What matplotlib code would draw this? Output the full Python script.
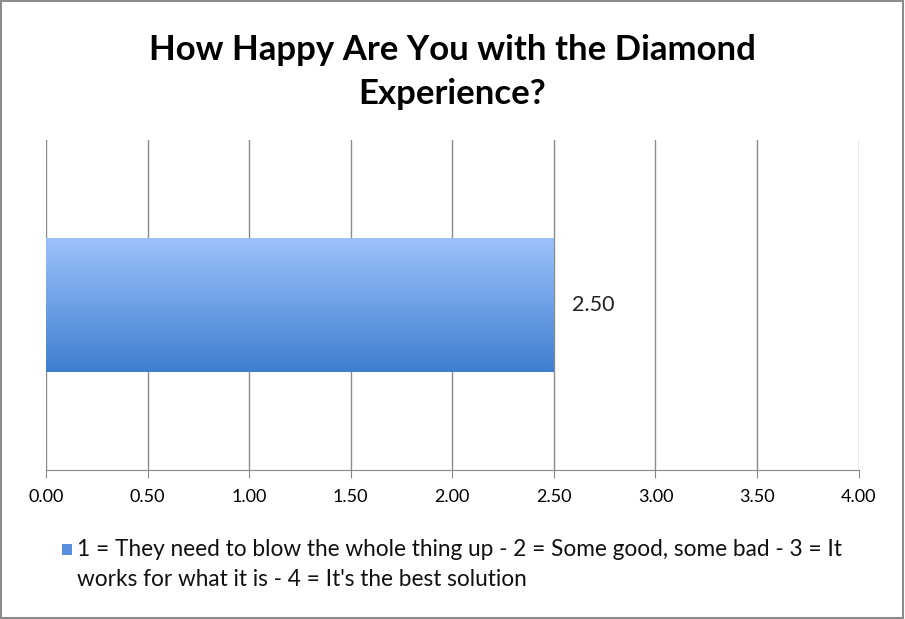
import numpy as np
import matplotlib.pyplot as plt
from matplotlib.patches import Rectangle
from matplotlib.colors import LinearSegmentedColormap

# data
categories = [""]
values = [2.50]
x_ticks = [0.0, 0.5, 1.0, 1.5, 2.0, 2.5, 3.0, 3.5, 4.0]
title = "How Happy Are You with the Diamond\nExperience?"
series_label = ("1 = They need to blow the whole thing up - 2 = Some good, some bad - 3 = It\n"
                "works for what it is - 4 = It's the best solution")

plt.rcParams['font.family'] = ['Lato', 'DejaVu Sans']

fig = plt.figure(figsize=(9.05, 6.19), dpi=100)
ax = fig.add_axes([0.0508, 0.2407, 0.898, 0.533])

grad = LinearSegmentedColormap.from_list("bar", ["#3f7ecf", "#9cc2fb"])
bars = ax.barh(categories, values, height=0.405, color="none", edgecolor="none", zorder=3)
for b in bars:
    x0, y0, w, h = b.get_x(), b.get_y(), b.get_width(), b.get_height()
    g = np.linspace(0, 1, 256).reshape(-1, 1)
    ax.imshow(g, cmap=grad, aspect="auto", origin="lower",
              extent=[x0, x0 + w, y0, y0 + h], zorder=3)
    ax.text(x0 + w + 0.09, y0 + h / 2, f"{w:.2f}", va="center", ha="left",
            fontsize=15.5, color="#222222")

ax.set_xlim(0, 4)
ax.set_ylim(-0.5, 0.5)
ax.set_xticks(x_ticks)
ax.set_xticklabels([f"{t:.2f}" for t in x_ticks], fontsize=13)
ax.set_yticks([])
ax.grid(axis="x", color="#8a8a8a", linewidth=1.0, zorder=0)
for s in ["top", "right", "left"]:
    ax.spines[s].set_visible(False)
ax.spines["bottom"].set_color("#8a8a8a")
ax.tick_params(axis="x", length=6, color="#8a8a8a", pad=8)

fig.text(0.5, 1 - 72 / 619, title, fontsize=25, fontweight="bold",
         ha="center", va="center", linespacing=1.45)

# legend drawn by hand so swatch sits on first line
fig.patches.append(Rectangle((62 / 905, 1 - 555 / 619), 10 / 905, 11 / 619,
                             transform=fig.transFigure, facecolor="#5a8fdc",
                             edgecolor="none"))
fig.text(77 / 905, 1 - 539 / 619, series_label, fontsize=16.3, va="top", ha="left",
         linespacing=1.55, color="#111111")

# outer border
fig.patches.append(Rectangle((0.001, 0.001), 0.997, 0.997, transform=fig.transFigure,
                             fill=False, edgecolor="#8c8c8c", linewidth=1.5))

fig.savefig("out.png", dpi=100)
